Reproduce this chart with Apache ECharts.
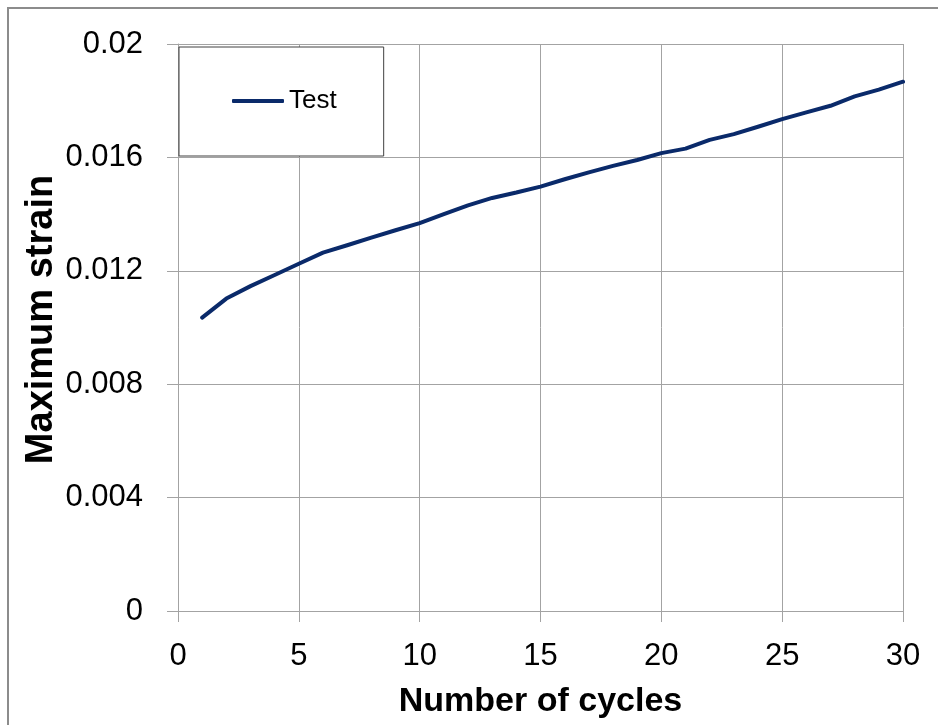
<!DOCTYPE html>
<html>
<head>
<meta charset="utf-8">
<script src="https://cdn.jsdelivr.net/npm/echarts@6/dist/echarts.min.js"></script>
<style>
html,body{margin:0;padding:0;background:#fff;}
#chart{width:938px;height:725px;}
</style>
</head>
<body>
<div id="chart"></div>
<script>
const cycles = [1,2,3,4,5,6,7,8,9,10,11,12,13,14,15,16,17,18,19,20,21,22,23,24,25,26,27,28,29,30];
const strainTest = [0.01035,0.01102,0.01146,0.01185,0.01225,0.01264,0.01290,0.01317,0.01343,0.01368,
                    0.01400,0.01431,0.01457,0.01476,0.01497,0.01523,0.01547,0.01570,0.01591,0.01615,
                    0.01631,0.01662,0.01682,0.01708,0.01735,0.01759,0.01782,0.01815,0.01839,0.01867];
const seriesName = 'Test';
const xAxisTitle = 'Number of cycles';
const yAxisTitle = 'Maximum strain';

const FONT = 'Liberation Sans';
const gridColor = '#a3a3a3';
const lineColor = '#0a2a6a';
const chart = echarts.init(document.getElementById('chart'));
chart.setOption({
  animation: false,
  backgroundColor: '#fff',
  graphic: [{
    type: 'rect',
    shape: {x: 8, y: 8, width: 960, height: 760},
    style: {fill: 'none', stroke: '#8c8c8c', lineWidth: 2},
    silent: true, z: -1
  }],
  grid: {left: 178, right: 35, top: 44, bottom: 114, containLabel: false},
  legend: {
    left: 179, top: 47,
    data: [{name: seriesName, icon: 'roundRect'}],
    itemWidth: 52, itemHeight: 4,
    padding: [39, 47, 40, 53],
    borderColor: '#404040', borderWidth: 1,
    backgroundColor: '#fff',
    textStyle: {fontFamily: FONT, fontSize: 26, color: '#000', lineHeight: 30}
  },
  xAxis: {
    type: 'value', min: 0, max: 30, interval: 5,
    name: xAxisTitle, nameLocation: 'middle', nameGap: 74, nameMoveOverlap: false,
    nameTextStyle: {fontFamily: FONT, fontSize: 34, fontWeight: 'bold', color: '#000'},
    axisLine: {show: true, lineStyle: {color: gridColor, width: 1}},
    axisTick: {show: true, length: 11, lineStyle: {color: gridColor}},
    axisLabel: {fontFamily: FONT, fontSize: 31, color: '#000', margin: 30},
    splitLine: {show: true, lineStyle: {color: gridColor, width: 1}}
  },
  yAxis: {
    type: 'value', min: 0, max: 0.02, interval: 0.004,
    name: yAxisTitle, nameLocation: 'middle', nameGap: 117, nameMoveOverlap: false,
    nameTextStyle: {fontFamily: FONT, fontSize: 38, fontWeight: 'bold', color: '#000',
      padding: [0, 0, 0, 16]},
    axisLine: {show: true, lineStyle: {color: gridColor, width: 1}},
    axisTick: {show: true, length: 11, lineStyle: {color: gridColor}},
    axisLabel: {fontFamily: FONT, fontSize: 31, color: '#000', margin: 35,
      formatter: v => String(+v.toFixed(3))},
    splitLine: {show: true, lineStyle: {color: gridColor, width: 1}}
  },
  series: [{
    name: seriesName, type: 'line',
    data: cycles.map((c, i) => [c, strainTest[i]]),
    showSymbol: false, smooth: false,
    lineStyle: {color: lineColor, width: 4, cap: 'round', join: 'round'},
    itemStyle: {color: lineColor}
  }]
});
</script>
</body>
</html>
